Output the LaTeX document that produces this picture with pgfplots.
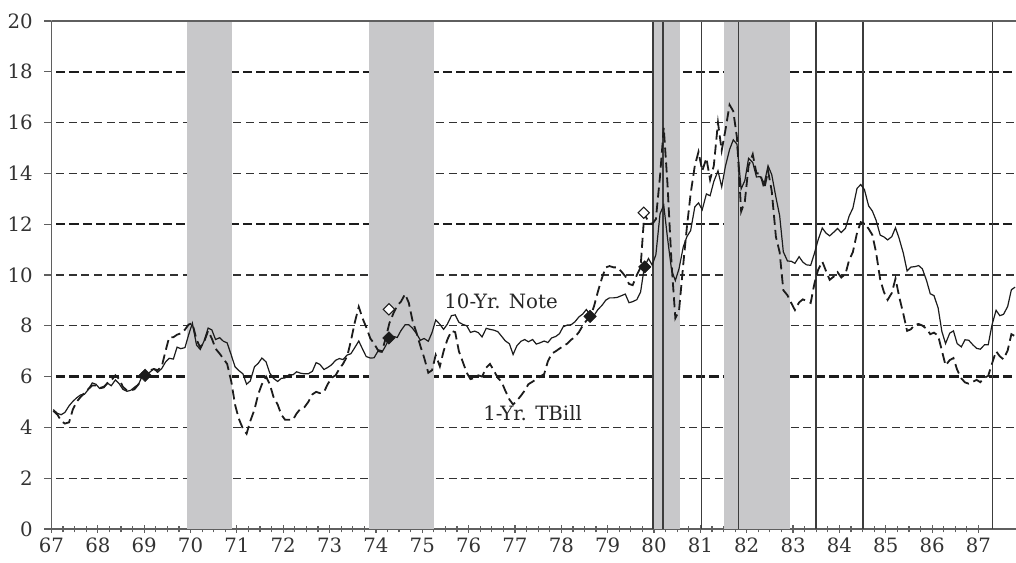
\documentclass[border=0pt]{standalone}
\usepackage{pgfplots}
\pgfplotsset{compat=1.18}
\usepackage{fontspec}
\setmainfont{DejaVu Serif}
\definecolor{band}{RGB}{200,200,202}
\definecolor{ink}{RGB}{28,28,28}
\definecolor{axisgray}{RGB}{95,95,95}
\definecolor{gridc}{RGB}{50,50,50}
\definecolor{rectc}{RGB}{60,60,60}
\begin{document}
\begin{tikzpicture}
\begin{axis}[
  at={(0,0)}, anchor=south west,
  scale only axis, width=723.4pt, height=381pt,
  xmin=67, xmax=87.81, ymin=0, ymax=20,
  axis x line*=bottom, axis y line*=left,
  axis line style={axisgray, line width=1pt},
  xtick={67,68,...,87}, minor x tick num=3,
  xtick align=center, major tick length=5.5pt, minor tick length=5pt,
  ytick={0,2,...,20}, ytick align=outside,
  every tick/.style={axisgray, line width=0.9pt},
  /pgf/number format/assume math mode=true,
  tick label style={font=\fontsize{14.8}{16}\selectfont, text=black!80},
  yticklabel style={xshift=-5pt},
  xticklabel style={yshift=-3pt, inner sep=1pt},
  xticklabel={\pgfmathprintnumber[int detect]{\tick}},
  clip=true,
]
% grid lines
\addplot[gridc, line width=0.8pt, dash pattern=on 6pt off 3.5pt] coordinates {(67.1,2)(87.81,2)};
\addplot[gridc, line width=0.8pt, dash pattern=on 6pt off 3.5pt] coordinates {(67.1,4)(87.81,4)};
\addplot[gridc, line width=0.8pt, dash pattern=on 6pt off 3.5pt] coordinates {(67.1,8)(87.81,8)};
\addplot[gridc, line width=0.8pt, dash pattern=on 6pt off 3.5pt] coordinates {(67.1,10)(87.81,10)};
\addplot[gridc, line width=0.8pt, dash pattern=on 6pt off 3.5pt] coordinates {(67.1,14)(87.81,14)};
\addplot[gridc, line width=0.8pt, dash pattern=on 6pt off 3.5pt] coordinates {(67.1,16)(87.81,16)};
\addplot[ink, line width=1.7pt, dash pattern=on 7pt off 3pt] coordinates {(67.1,6)(87.81,6)};
\addplot[ink, line width=1.7pt, dash pattern=on 7pt off 3pt] coordinates {(67.1,12)(87.81,12)};
\addplot[ink, line width=1.7pt, dash pattern=on 7pt off 3pt] coordinates {(67.1,18)(87.81,18)};
% recession bands
\addplot[fill=band, draw=none] coordinates {(69.92,0)(69.92,20)(70.89,20)(70.89,0)} -- cycle;
\addplot[fill=band, draw=none] coordinates {(73.85,0)(73.85,20)(75.25,20)(75.25,0)} -- cycle;
\addplot[fill=band, draw=none] coordinates {(79.97,0)(79.97,20)(80.56,20)(80.56,0)} -- cycle;
\addplot[fill=band, draw=none] coordinates {(81.51,0)(81.51,20)(82.93,20)(82.93,0)} -- cycle;
% tightening boxes
\addplot[rectc, line width=1.1pt] coordinates {(79.98,0)(79.98,20)(80.19,20)(80.19,0)};
\addplot[rectc, line width=1.1pt] coordinates {(81.03,0)(81.03,20)(81.82,20)(81.82,0)};
\addplot[rectc, line width=1.1pt] coordinates {(83.49,0)(83.49,20)(84.51,20)(84.51,0)};
\addplot[rectc, line width=1.1pt] coordinates {(87.30,0)(87.30,20)(88.50,20)};
% top frame
\addplot[axisgray, line width=1pt] coordinates {(67,20)(87.81,20)};
% 10-year note
\addplot[ink, line width=0.9pt] coordinates {
(67.04,4.70)(67.13,4.55)(67.21,4.50)(67.29,4.59)(67.38,4.85)(67.46,5.02)(67.54,5.16)(67.63,5.28)(67.71,5.30)(67.79,5.48)(67.88,5.75)(67.96,5.70)
(68.04,5.53)(68.13,5.56)(68.21,5.74)(68.29,5.64)(68.38,5.87)(68.46,5.72)(68.54,5.50)(68.63,5.42)(68.71,5.46)(68.79,5.58)(68.88,5.70)(68.96,6.03)
(69.04,6.04)(69.13,6.19)(69.21,6.30)(69.29,6.17)(69.38,6.32)(69.46,6.57)(69.54,6.72)(69.63,6.69)(69.71,7.16)(69.79,7.10)(69.88,7.14)(69.96,7.65)
(70.04,8.10)(70.13,7.24)(70.21,7.07)(70.29,7.39)(70.38,7.91)(70.46,7.84)(70.54,7.46)(70.63,7.53)(70.71,7.39)(70.79,7.33)(70.88,6.84)(70.96,6.39)
(71.04,6.24)(71.13,6.11)(71.21,5.70)(71.29,5.83)(71.38,6.39)(71.46,6.52)(71.54,6.73)(71.63,6.58)(71.71,6.14)(71.79,5.93)(71.88,5.81)(71.96,5.93)
(72.04,5.95)(72.13,6.08)(72.21,6.07)(72.29,6.19)(72.38,6.13)(72.46,6.11)(72.54,6.11)(72.63,6.21)(72.71,6.55)(72.79,6.48)(72.88,6.28)(72.96,6.36)
(73.04,6.46)(73.13,6.64)(73.21,6.71)(73.29,6.67)(73.38,6.85)(73.46,6.90)(73.54,7.13)(73.63,7.40)(73.71,7.09)(73.79,6.79)(73.88,6.73)(73.96,6.74)
(74.04,6.99)(74.13,6.96)(74.21,7.21)(74.29,7.51)(74.38,7.58)(74.46,7.54)(74.54,7.81)(74.63,8.04)(74.71,8.04)(74.79,7.90)(74.88,7.68)(74.96,7.43)
(75.04,7.50)(75.13,7.39)(75.21,7.73)(75.29,8.23)(75.38,8.06)(75.46,7.86)(75.54,8.06)(75.63,8.40)(75.71,8.43)(75.79,8.14)(75.88,8.05)(75.96,8.00)
(76.04,7.74)(76.13,7.79)(76.21,7.73)(76.29,7.56)(76.38,7.90)(76.46,7.86)(76.54,7.83)(76.63,7.77)(76.71,7.59)(76.79,7.41)(76.88,7.29)(76.96,6.87)
(77.04,7.21)(77.13,7.39)(77.21,7.46)(77.29,7.37)(77.38,7.46)(77.46,7.28)(77.54,7.33)(77.63,7.40)(77.71,7.34)(77.79,7.52)(77.88,7.58)(77.96,7.69)
(78.04,7.96)(78.13,8.03)(78.21,8.04)(78.29,8.15)(78.38,8.35)(78.46,8.46)(78.54,8.64)(78.63,8.41)(78.71,8.42)(78.79,8.64)(78.88,8.81)(78.96,9.01)
(79.04,9.10)(79.13,9.10)(79.21,9.12)(79.29,9.18)(79.38,9.25)(79.46,8.91)(79.54,8.95)(79.63,9.03)(79.71,9.33)(79.79,10.30)(79.88,10.65)(79.96,10.39)
(80.04,10.80)(80.13,12.41)(80.21,12.75)(80.29,11.47)(80.38,10.18)(80.46,9.78)(80.54,10.25)(80.63,11.10)(80.71,11.51)(80.79,11.75)(80.88,12.68)(80.96,12.84)
(81.04,12.57)(81.13,13.19)(81.21,13.12)(81.29,13.68)(81.38,14.10)(81.46,13.47)(81.54,14.28)(81.63,14.94)(81.71,15.32)(81.79,15.15)(81.88,13.39)(81.96,13.72)
(82.04,14.59)(82.13,14.43)(82.21,13.86)(82.29,13.87)(82.38,13.62)(82.46,14.30)(82.54,13.95)(82.63,13.06)(82.71,12.34)(82.79,10.91)(82.88,10.55)(82.96,10.54)
(83.04,10.46)(83.13,10.72)(83.21,10.51)(83.29,10.40)(83.38,10.38)(83.46,10.85)(83.54,11.38)(83.63,11.85)(83.71,11.65)(83.79,11.54)(83.88,11.69)(83.96,11.83)
(84.04,11.67)(84.13,11.84)(84.21,12.32)(84.29,12.63)(84.38,13.41)(84.46,13.56)(84.54,13.36)(84.63,12.72)(84.71,12.52)(84.79,12.16)(84.88,11.57)(84.96,11.50)
(85.04,11.38)(85.13,11.51)(85.21,11.86)(85.29,11.43)(85.38,10.85)(85.46,10.16)(85.54,10.31)(85.63,10.33)(85.71,10.37)(85.79,10.24)(85.88,9.78)(85.96,9.26)
(86.04,9.19)(86.13,8.70)(86.21,7.78)(86.29,7.30)(86.38,7.71)(86.46,7.80)(86.54,7.30)(86.63,7.17)(86.71,7.45)(86.79,7.43)(86.88,7.25)(86.96,7.11)
(87.04,7.08)(87.13,7.25)(87.21,7.25)(87.29,8.02)(87.38,8.61)(87.46,8.40)(87.54,8.45)(87.63,8.76)(87.71,9.42)(87.79,9.52)
};
% 1-year T-bill
\addplot[ink, line width=1.35pt, dash pattern=on 7.5pt off 3.75pt] coordinates {
(67.04,4.65)(67.13,4.50)(67.21,4.25)(67.29,4.15)(67.38,4.20)(67.46,4.70)(67.54,5.00)(67.63,5.20)(67.71,5.35)(67.79,5.50)(67.88,5.65)(67.96,5.65)
(68.04,5.55)(68.13,5.60)(68.21,5.75)(68.29,5.85)(68.38,6.05)(68.46,5.90)(68.54,5.60)(68.63,5.45)(68.71,5.45)(68.79,5.50)(68.88,5.70)(68.96,6.15)
(69.04,6.20)(69.13,6.25)(69.21,6.30)(69.29,6.25)(69.38,6.40)(69.46,7.00)(69.54,7.55)(69.63,7.55)(69.71,7.65)(69.79,7.70)(69.88,7.85)(69.96,8.05)
(70.04,8.10)(70.13,7.45)(70.21,7.15)(70.29,7.35)(70.38,7.80)(70.46,7.50)(70.54,7.10)(70.63,6.90)(70.71,6.70)(70.79,6.50)(70.88,5.80)(70.96,4.90)
(71.04,4.35)(71.13,3.95)(71.21,3.75)(71.29,4.25)(71.38,4.70)(71.46,5.30)(71.54,5.70)(71.63,6.00)(71.71,5.70)(71.79,5.20)(71.88,4.90)(71.96,4.50)
(72.04,4.30)(72.13,4.30)(72.21,4.30)(72.29,4.55)(72.38,4.75)(72.46,4.80)(72.54,5.00)(72.63,5.30)(72.71,5.40)(72.79,5.35)(72.88,5.40)(72.96,5.70)
(73.04,5.95)(73.13,6.05)(73.21,6.30)(73.29,6.50)(73.38,6.80)(73.46,7.40)(73.54,8.10)(73.63,8.75)(73.71,8.30)(73.79,7.95)(73.88,7.50)(73.96,7.30)
(74.04,7.05)(74.13,7.00)(74.21,7.50)(74.29,8.10)(74.38,8.50)(74.46,8.80)(74.54,8.95)(74.63,9.25)(74.71,8.90)(74.79,8.20)(74.88,7.70)(74.96,7.20)
(75.04,6.75)(75.13,6.15)(75.21,6.25)(75.29,6.85)(75.38,6.40)(75.46,7.00)(75.54,7.45)(75.63,7.80)(75.71,7.75)(75.79,7.00)(75.88,6.55)(75.96,6.15)
(76.04,5.90)(76.13,5.95)(76.21,6.05)(76.29,6.00)(76.38,6.35)(76.46,6.50)(76.54,6.25)(76.63,5.95)(76.71,5.80)(76.79,5.45)(76.88,5.10)(76.96,4.90)
(77.04,5.05)(77.13,5.25)(77.21,5.45)(77.29,5.70)(77.38,5.80)(77.46,5.90)(77.54,6.00)(77.63,6.10)(77.71,6.60)(77.79,6.90)(77.88,7.00)(77.96,7.10)
(78.04,7.20)(78.13,7.30)(78.21,7.45)(78.29,7.55)(78.38,7.75)(78.46,8.00)(78.54,8.20)(78.63,8.35)(78.71,8.80)(78.79,9.35)(78.88,9.90)(78.96,10.30)
(79.04,10.35)(79.13,10.30)(79.21,10.30)(79.29,10.15)(79.38,9.95)(79.46,9.65)(79.54,9.60)(79.63,10.00)(79.71,10.30)(79.79,12.40)(79.88,12.10)(79.96,12.00)
(80.04,12.20)(80.13,13.90)(80.21,15.80)(80.29,13.60)(80.38,10.40)(80.46,8.30)(80.54,8.60)(80.63,10.40)(80.71,11.90)(80.79,13.20)(80.88,14.30)(80.96,14.85)
(81.04,14.10)(81.13,14.60)(81.21,13.75)(81.29,14.30)(81.38,16.00)(81.46,14.90)(81.54,15.70)(81.63,16.70)(81.71,16.45)(81.79,15.40)(81.88,12.50)(81.96,12.90)
(82.04,14.30)(82.13,14.75)(82.21,14.00)(82.29,14.00)(82.38,13.40)(82.46,14.10)(82.54,13.30)(82.63,11.50)(82.71,10.90)(82.79,9.40)(82.88,9.20)(82.96,8.90)
(83.04,8.62)(83.13,8.92)(83.21,9.04)(83.29,8.98)(83.38,8.90)(83.46,9.66)(83.54,10.20)(83.63,10.53)(83.71,10.16)(83.79,9.81)(83.88,9.94)(83.96,10.11)
(84.04,9.90)(84.13,10.04)(84.21,10.59)(84.29,10.90)(84.38,11.66)(84.46,12.08)(84.54,12.03)(84.63,11.82)(84.71,11.58)(84.79,10.90)(84.88,9.82)(84.96,9.33)
(85.04,9.02)(85.13,9.29)(85.21,9.86)(85.29,9.14)(85.38,8.46)(85.46,7.80)(85.54,7.86)(85.63,8.05)(85.71,8.07)(85.79,8.01)(85.88,7.88)(85.96,7.67)
(86.04,7.73)(86.13,7.61)(86.21,7.03)(86.29,6.44)(86.38,6.65)(86.46,6.73)(86.54,6.27)(86.63,5.93)(86.71,5.77)(86.79,5.72)(86.88,5.80)(86.96,5.87)
(87.04,5.78)(87.13,5.96)(87.21,6.03)(87.29,6.50)(87.38,7.00)(87.46,6.80)(87.54,6.68)(87.63,7.03)(87.71,7.67)(87.79,7.59)
};
% markers
\addplot[only marks, mark=square*, mark size=3.3pt, mark options={rotate=45, fill=ink, draw=ink}] coordinates {(69.02,6.05)(74.28,7.52)(78.62,8.37)(79.80,10.32)};
\addplot[only marks, mark=square*, mark size=3.0pt, mark options={rotate=45, fill=white, draw=ink, line width=0.8pt}] coordinates {(74.28,8.65)(79.78,12.45)};
\node[font=\fontsize{14.8}{16}\selectfont, text=black!85] at (axis cs:76.70,8.95) {10-Yr. Note};
\node[font=\fontsize{14.8}{16}\selectfont, text=black!85] at (axis cs:77.38,4.56) {1-Yr. TBill};
\end{axis}
\pgfresetboundingbox
\path[use as bounding box] (-38.6pt,-25pt) rectangle (723.4pt,396.75pt);
\end{tikzpicture}
\end{document}
